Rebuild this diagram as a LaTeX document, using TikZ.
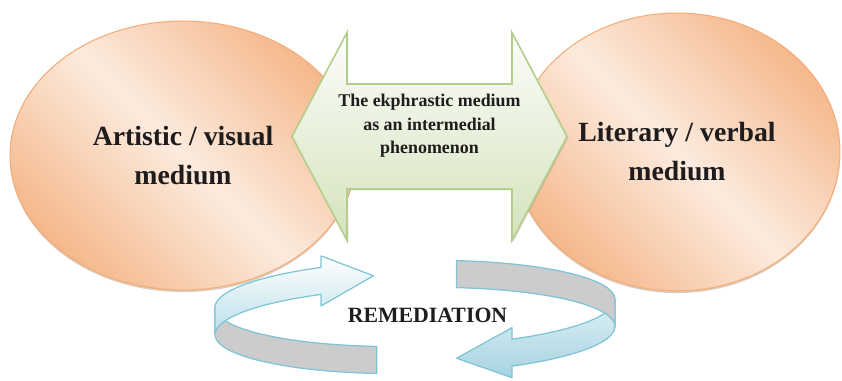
\documentclass[tikz,border=0pt]{standalone}
\usepackage{fontspec}
\setmainfont{Liberation Serif}
\usetikzlibrary{shapes.geometric, shadows, positioning}

\definecolor{peachdeep}{RGB}{245,184,140}
\definecolor{peachpale}{RGB}{252,235,222}
\definecolor{peachedge}{RGB}{244,172,120}
\definecolor{leafedge}{RGB}{178,206,138}
\definecolor{leaftop}{RGB}{252,253,250}
\definecolor{leafbot}{RGB}{212,227,188}
\definecolor{ringedge}{RGB}{126,196,214}
\definecolor{ringback}{RGB}{204,204,204}
\definecolor{ringlow}{RGB}{186,223,233}
\definecolor{ringhigh}{RGB}{222,240,245}
\definecolor{ringdeep}{RGB}{166,211,224}
\definecolor{inktext}{RGB}{30,28,28}

% points on the loop round REMEDIATION
\newcommand{\ringx}[1]{415+200*cos(#1)}
\newcommand{\ringy}[1]{317-43*sin(#1)-4*cos(#1)}

\tikzstyle{mediumbox} = [ellipse, inner sep=0pt, draw=peachedge, line width=0.6pt, top color=peachdeep, bottom color=peachdeep, middle color=peachpale, shading angle=-45, align=center, text=inktext, font=\fontsize{15.8}{22.2}\selectfont\bfseries, drop shadow={shadow xshift=0pt, shadow yshift=-1.2pt, opacity=0.3, fill=brown!70!black}]
\tikzstyle{bridge} = [draw=leafedge, line width=0.9pt, top color=leaftop, bottom color=leafbot, drop shadow={shadow xshift=0.8pt, shadow yshift=-0.8pt, opacity=0.25}]
\tikzstyle{bridgetext} = [align=center, text=inktext, font=\fontsize{10.2}{13.3}\selectfont\bfseries]
\tikzstyle{loopgray} = [draw=ringedge, line width=0.7pt, fill=ringback, line join=round]
\tikzstyle{looppale} = [draw=ringedge, line width=0.7pt, top color=white, bottom color=ringlow, line join=round]
\tikzstyle{loopdeep} = [draw=ringedge, line width=0.7pt, top color=ringhigh, bottom color=ringdeep, line join=round]
\tikzstyle{loopword} = [text=inktext, font=\fontsize{12.4}{15}\selectfont\bfseries]

\begin{document}
\begin{tikzpicture}[x=0.02cm, y=-0.02cm]
	\useasboundingbox (0,0) rectangle (842,380);
	\node (visual) [mediumbox, minimum width=6.92cm, minimum height=5.38cm] at (183,155.5) {Artistic / visual\\medium};
	\node (verbal) [mediumbox, minimum width=6.52cm, minimum height=5.56cm] at (677,152) {Literary / verbal\\medium};
	% the two-headed arrow between them
	\draw [bridge] (292,136.5) -- (347,32.5) -- (347,84) -- (512,84) -- (512,32.5) -- (567,136.5) -- (512,240.5) -- (512,189) -- (347,189) -- (347,240.5) -- cycle;
	\node (ekphrasis) [bridgetext] at (429.5,126) {The ekphrastic medium\\as an intermedial\\phenomenon};
	% left arrow of the loop
	\draw [loopgray] plot [domain=180:259, samples=30] ({\ringx{\x}}, {\ringy{\x}-13.5})
		-- plot [domain=259:180, samples=30] ({\ringx{\x}}, {\ringy{\x}+13.5}) -- cycle;
	\draw [looppale] plot [domain=118:180, samples=30] ({\ringx{\x}}, {\ringy{\x}+13.5})
		-- plot [domain=180:118, samples=30] ({\ringx{\x}}, {\ringy{\x}-13.5})
		-- ({\ringx{118}}, {\ringy{118}-25}) -- ({\ringx{102}}, {\ringy{102}})
		-- ({\ringx{118}}, {\ringy{118}+25}) -- cycle;
	% right arrow of the loop
	\draw [loopdeep] plot [domain=-61:0, samples=30] ({\ringx{\x}}, {\ringy{\x}+13.5})
		-- plot [domain=0:-61, samples=30] ({\ringx{\x}}, {\ringy{\x}-13.5})
		-- ({\ringx{-61}}, {\ringy{-61}-25}) -- ({\ringx{-78}}, {\ringy{-78}})
		-- ({\ringx{-61}}, {\ringy{-61}+25}) -- cycle;
	\draw [loopgray] plot [domain=78:0, samples=30] ({\ringx{\x}}, {\ringy{\x}-13.5})
		-- plot [domain=0:78, samples=30] ({\ringx{\x}}, {\ringy{\x}+13.5}) -- cycle;
	\node (remediation) [loopword] at (427.5,315.5) {REMEDIATION};
\end{tikzpicture}
\end{document}
